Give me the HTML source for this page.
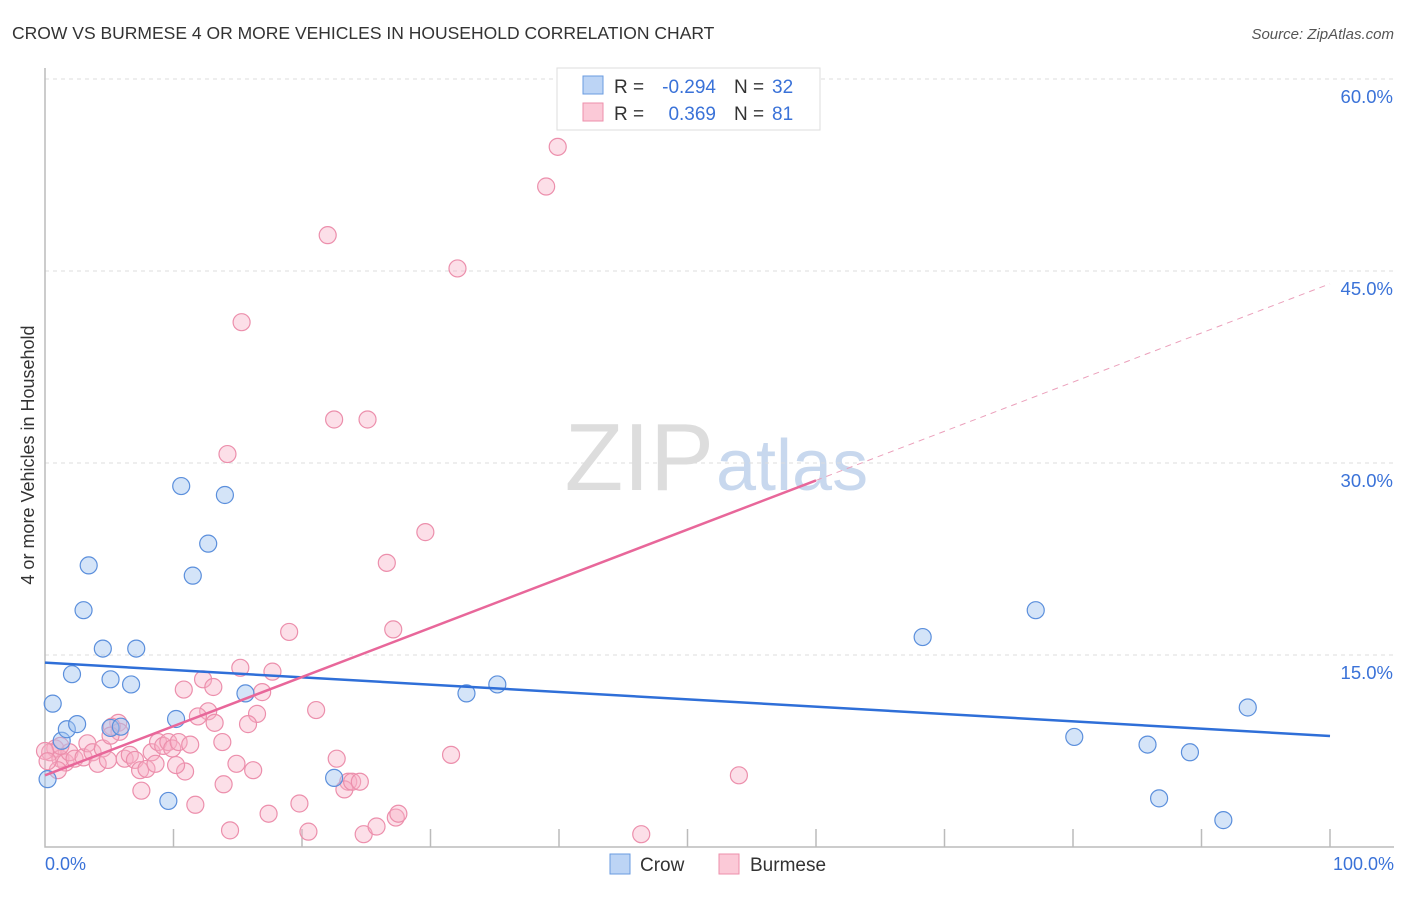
<!DOCTYPE html>
<html><head><meta charset="utf-8"><style>
body{margin:0;background:#fff;font-family:"Liberation Sans",sans-serif;}
svg text{font-family:"Liberation Sans",sans-serif;}
</style></head><body>
<svg width="1406" height="892" xmlns="http://www.w3.org/2000/svg" id="chart">
<text x="12" y="39" font-size="17.5" fill="#333">CROW VS BURMESE 4 OR MORE VEHICLES IN HOUSEHOLD CORRELATION CHART</text>
<text x="1394" y="39" font-size="15" fill="#555" font-style="italic" text-anchor="end">Source: ZipAtlas.com</text>
<text x="714" y="490" font-size="96" fill="#ddd" text-anchor="end" font-family="Liberation Serif">ZIP</text>
<text x="716" y="490" font-size="72" fill="#c8d8ee">atlas</text>
<g id="grid"></g><g id="axes"></g><g id="marks"></g>
<text transform="translate(34,455) rotate(-90)" font-size="18" fill="#333" text-anchor="middle">4 or more Vehicles in Household</text>
<text x="45" y="870" font-size="18" fill="#3a72d8">0.0%</text>
<text x="1394" y="870" font-size="18" fill="#3a72d8" text-anchor="end">100.0%</text>
<g>
<rect x="557" y="68" width="263" height="62" fill="#fff" stroke="#ddd"/>
<rect x="583" y="76" width="20" height="18" fill="#bcd4f5" stroke="#6a9be0"/>
<rect x="583" y="103" width="20" height="18" fill="#fbc9d7" stroke="#ee8fab"/>
<text x="614" y="93" font-size="19" fill="#333">R =</text>
<text x="716" y="93" font-size="19" fill="#3a72d8" text-anchor="end">-0.294</text>
<text x="734" y="93" font-size="19" fill="#333">N =</text>
<text x="772" y="93" font-size="19" fill="#3a72d8">32</text>
<text x="614" y="120" font-size="19" fill="#333">R =</text>
<text x="716" y="120" font-size="19" fill="#3a72d8" text-anchor="end">0.369</text>
<text x="734" y="120" font-size="19" fill="#333">N =</text>
<text x="772" y="120" font-size="19" fill="#3a72d8">81</text>
</g>
<g>
<rect x="610" y="854" width="20" height="20" fill="#bcd4f5" stroke="#6a9be0"/>
<text x="640" y="871" font-size="19" fill="#333">Crow</text>
<rect x="719" y="854" width="20" height="20" fill="#fbc9d7" stroke="#ee8fab"/>
<text x="750" y="871" font-size="19" fill="#333">Burmese</text>
</g>
</svg>
<script>
const yTicks=[15,30,45,60];
const yTickLabels=["15.0%","30.0%","45.0%","60.0%"];
const xTicks=[10,20,30,40,50,60,70,80,90,100];
const crowX=[0.2,0.6,1.3,1.7,2.1,2.5,3.0,3.4,4.5,5.1,5.1,5.9,6.7,7.1,9.6,10.2,10.6,11.5,12.7,14.0,15.6,22.5,32.8,35.2,68.3,77.1,80.1,85.8,86.7,89.1,91.7,93.6];
const crowY=[5.3,11.2,8.3,9.2,13.5,9.6,18.5,22.0,15.5,13.1,9.3,9.4,12.7,15.5,3.6,10.0,28.2,21.2,23.7,27.5,12.0,5.4,12.0,12.7,16.4,18.5,8.6,8.0,3.8,7.4,2.1,10.9];
const burX=[39.9,39.0,22.0,32.1,15.3,22.5,25.1,14.2,29.6,26.6,27.1,19.0,15.2,17.7,12.3,10.8,13.1,16.9,21.1,12.7,16.5,11.9,13.2,15.8,5.7,5.2,5.8,0.8,0.4,1.2,1.6,1.9,2.3,3.0,3.3,3.7,4.1,4.5,4.9,6.2,6.6,7.0,7.4,7.9,8.3,8.8,9.2,9.6,9.9,10.4,10.9,11.3,8.6,10.2,13.8,14.9,16.2,22.7,23.6,23.3,23.9,24.5,31.6,54.0,7.5,11.7,13.9,14.4,17.4,19.8,20.5,24.8,25.8,27.3,27.5,46.4,1.2,0.0,1.0,5.1,0.2];
const burY=[54.7,51.6,47.8,45.2,41.0,33.4,33.4,30.7,24.6,22.2,17.0,16.8,14.0,13.7,13.1,12.3,12.5,12.1,10.7,10.6,10.4,10.2,9.7,9.6,9.7,9.4,9.0,7.7,7.4,6.9,6.6,7.4,6.9,7.0,8.1,7.4,6.5,7.7,6.8,6.9,7.2,6.8,6.0,6.1,7.4,8.2,7.9,8.2,7.7,8.2,5.9,8.0,6.5,6.4,8.2,6.5,6.0,6.9,5.1,4.5,5.1,5.1,7.2,5.6,4.4,3.3,4.9,1.3,2.6,3.4,1.2,1.0,1.6,2.3,2.6,1.0,7.9,7.5,6.0,8.7,6.7];
const crowLine=[14.4,8.67];
const burLine=[5.6,44.0];
const burSolidEnd=60;
const NS="http://www.w3.org/2000/svg";
const X=v=>45+v*12.85, Y=v=>847-v*12.8;
function mk(t,a,p){const e=document.createElementNS(NS,t);for(const k in a)e.setAttribute(k,a[k]);p.appendChild(e);return e;}
const grid=document.getElementById('grid'),axes=document.getElementById('axes'),marks=document.getElementById('marks');
yTicks.forEach((t,i)=>{
 const l=mk('line',{x1:45,x2:1394,y1:Y(t),y2:Y(t),stroke:'#ddd','stroke-dasharray':'4,4'},grid);
 
 
 const tx=mk('text',{x:1393,y:Y(t)+24,'font-size':18.5,fill:'#3a72d8','text-anchor':'end'},grid);
 tx.textContent=yTickLabels[i];
 
 
});
const ax=mk('path',{d:'M45,68 V847 H1394',stroke:'#bbb',fill:'none','stroke-width':1.5},axes);


xTicks.forEach(t=>{const l=mk('line',{x1:X(t),x2:X(t),y1:829,y2:847,stroke:'#bbb','stroke-width':1.5},axes);
 
 });
burX.forEach((x,i)=>{const c=mk('circle',{cx:X(x),cy:Y(burY[i]),r:8.5,fill:'rgba(248,175,198,0.4)',stroke:'#ec8fac','stroke-width':1.2},marks);
 
 });
crowX.forEach((x,i)=>{const c=mk('circle',{cx:X(x),cy:Y(crowY[i]),r:8.5,fill:'rgba(160,195,240,0.45)',stroke:'#5b8fdc','stroke-width':1.2},marks);
 
 });
const bAt=x=>burLine[0]+(burLine[1]-burLine[0])*x/100;
const cl=mk('line',{x1:X(0),y1:Y(crowLine[0]),x2:X(100),y2:Y(crowLine[1]),stroke:'#2f6fd8','stroke-width':2.5},marks);


const bl=mk('line',{x1:X(0),y1:Y(bAt(0)),x2:X(burSolidEnd),y2:Y(bAt(burSolidEnd)),stroke:'#e8679a','stroke-width':2.5},marks);


const bd=mk('line',{x1:X(burSolidEnd),y1:Y(bAt(burSolidEnd)),x2:X(100),y2:Y(bAt(100)),stroke:'#eba0bb','stroke-width':1,'stroke-dasharray':'6,5'},marks);


</script>
</body></html>
